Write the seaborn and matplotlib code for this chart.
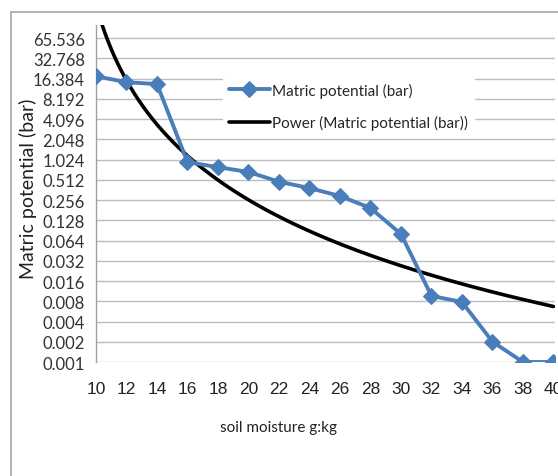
import numpy as np
import matplotlib
matplotlib.use("Agg")
import matplotlib.pyplot as plt
import seaborn as sns
from matplotlib.patches import Rectangle

# -------------------------
# Data
# -------------------------
moisture = [10, 12, 14, 16, 18, 20, 22, 24, 26, 28, 30, 32, 34, 36, 38, 40]
potential = [17.8, 14.5, 13.6, 0.94, 0.79, 0.67, 0.48, 0.386, 0.294, 0.195,
             0.080, 0.0096, 0.0078, 0.0020, 0.001, 0.001]
y_ticks = [0.001 * 2 ** i for i in range(17)]
x_ticks = list(range(10, 41, 2))

series_label = "Matric potential (bar)"
trend_label = "Power (Matric potential (bar))"

# -------------------------
# Power trendline (Excel style: fitted on category index 1..n)
# -------------------------
idx = np.arange(1, len(potential) + 1)
b, ln_a = np.polyfit(np.log(idx), np.log(potential), 1)
k = np.linspace(1, len(potential), 300)
trend_x = moisture[0] + (k - 1) * (moisture[1] - moisture[0])
trend_y = np.exp(ln_a) * k ** b

# -------------------------
# Plot setup
# -------------------------
sns.set_style("white")
plt.rcParams["font.family"] = ["Lato", "DejaVu Sans"]

W, H = 558, 477
fig = plt.figure(figsize=(W / 100, H / 100), dpi=100)
ax = fig.add_axes([96 / W, 1 - 363 / H, (555 - 96) / W, (363 - 26) / H])

blue = "#4a7ebb"
sns.lineplot(x=trend_x, y=trend_y, ax=ax, color="black", linewidth=2.6,
             label=trend_label, zorder=3)
sns.lineplot(x=moisture, y=potential, ax=ax, color=blue, linewidth=2.8,
             marker="D", markersize=8.5, markeredgecolor=blue,
             label=series_label, zorder=4)

ax.set_yscale("log", base=2)
ax.set_ylim(0.001, 0.001 * 2 ** 16.65)
ax.set_xlim(10, 40.1)
ax.set_yticks(y_ticks)
ax.set_yticklabels([f"{v:.3f}" for v in y_ticks], fontsize=12, color="#333333")
ax.yaxis.set_minor_locator(matplotlib.ticker.NullLocator())
ax.set_xticks(x_ticks)
ax.set_xticklabels([str(v) for v in x_ticks], fontsize=12.5, color="#222222",
                   family="Liberation Sans")
ax.tick_params(axis="y", length=5, color="#a0a0a0", pad=3)
ax.tick_params(axis="x", length=0, pad=14)
ax.grid(axis="y", color="#bdbdbd", linewidth=1)
ax.grid(axis="x", visible=False)
for side in ["top", "right", "bottom"]:
    ax.spines[side].set_visible(False)
ax.spines["left"].set_color("#a0a0a0")
ax.spines["left"].set_linewidth(1)
ax.set_xlabel("")
ax.set_ylabel("")

# legend, white box over the gridlines
handles, labels = ax.get_legend_handles_labels()
order = [labels.index(series_label), labels.index(trend_label)]
leg = ax.legend([handles[i] for i in order], [labels[i] for i in order],
                loc="upper left", bbox_to_anchor=(215 / W, 1 - 70 / H),
                bbox_transform=fig.transFigure, frameon=True, fontsize=11,
                handlelength=2.7, handletextpad=0.1, labelspacing=1.15,
                borderpad=0.4)
leg.get_frame().set_facecolor("white")
leg.get_frame().set_edgecolor("white")
leg.get_frame().set_alpha(1)
leg.set_zorder(5)

# axis titles
fig.text(28 / W, 1 - 189 / H, "Matric potential (bar)", rotation=90,
         ha="center", va="center", fontsize=14, color="#222222")
fig.text(278 / W, 1 - 428 / H, "soil moisture g:kg", ha="center",
         va="center", fontsize=11, color="#222222")

# chart border (cut off by the image edge on the right and bottom)
fig.patches.append(Rectangle((11 / W, -0.2), 1.2, 1.2 - 13 / H,
                             transform=fig.transFigure, fill=False,
                             edgecolor="#a6a6a6", linewidth=1.2))

plt.savefig("out.png", dpi=100)
